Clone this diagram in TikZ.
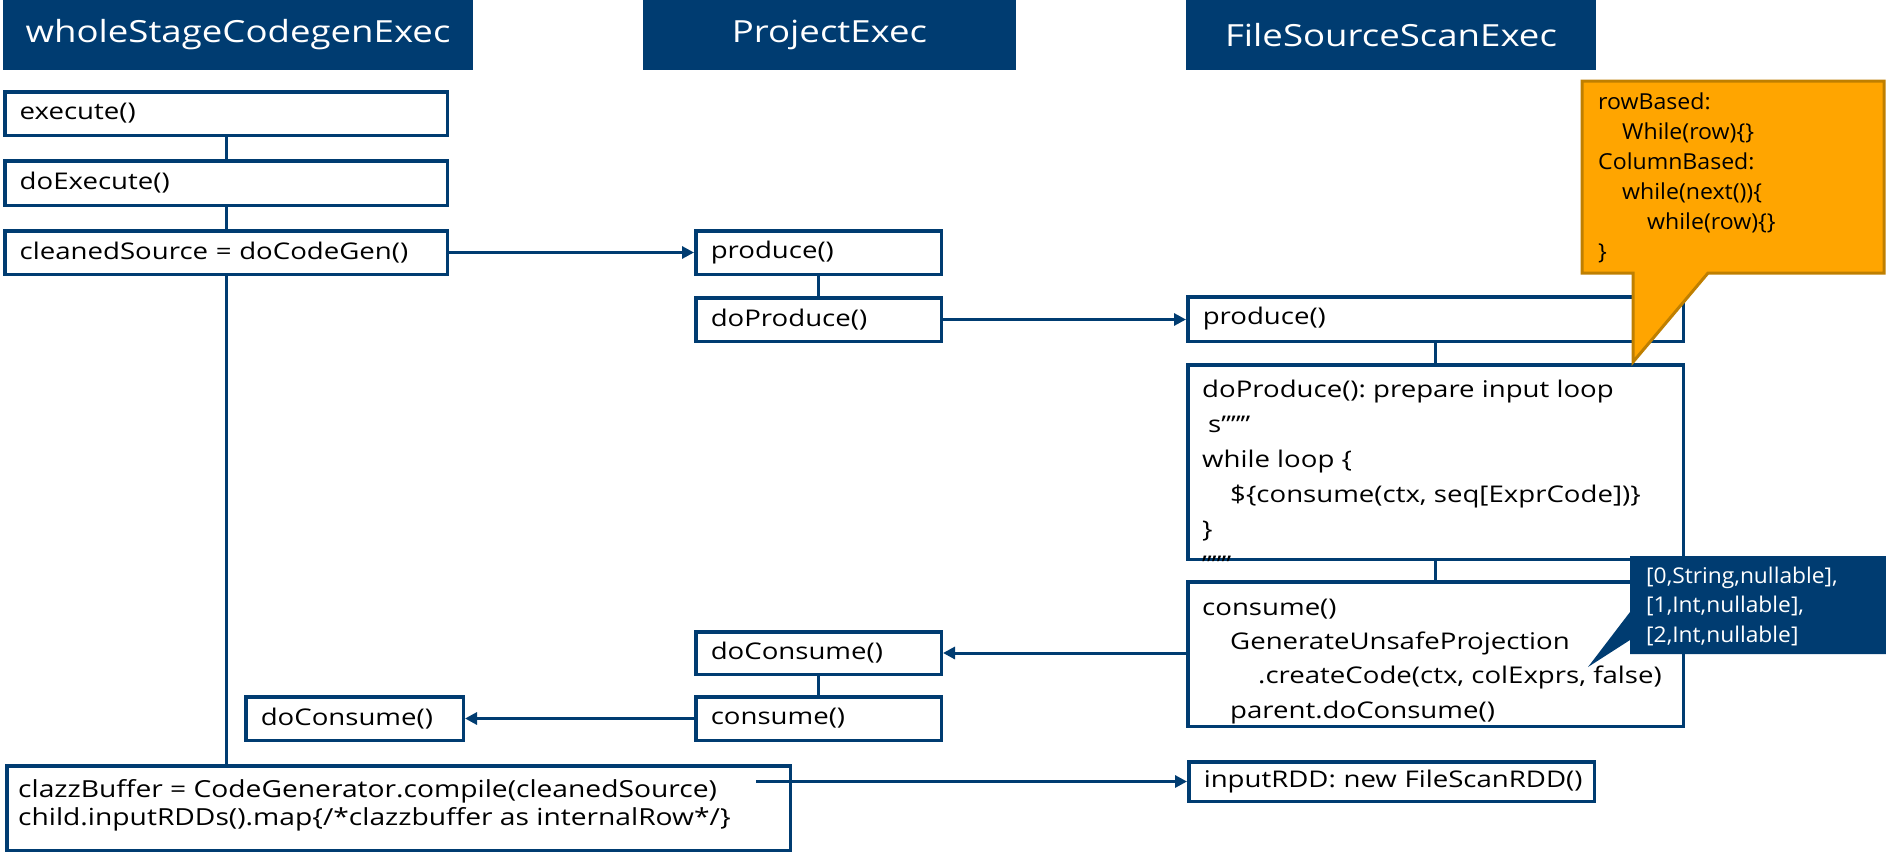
\documentclass[tikz,border=0pt]{standalone}
\usepackage{fontspec}
\setmainfont{Open Sans}[FakeStretch=1.2]
\newfontfamily\callfont{Open Sans}[FakeStretch=1.05]
\usetikzlibrary{arrows.meta}
\definecolor{ib}{RGB}{0,60,113}
\definecolor{org}{RGB}{255,165,0}
\definecolor{orgb}{RGB}{191,127,0}
\newcommand\bodyf{\fontsize{23}{28}\selectfont}
\newcommand\hdrf{\fontsize{30.5}{36}\selectfont}
\frenchspacing
\begin{document}
\begin{tikzpicture}[x=1pt,y=-1pt,
  hdr/.style={fill=ib, text=white, font=\hdrf, inner sep=0pt, minimum height=70pt},
  bx/.style={draw=ib, line width=3.5pt, fill=white, inner xsep=15pt, inner ysep=0pt, align=left, font=\bodyf},
  ln/.style={draw=ib, line width=3pt},
  arr/.style={ln, -{Triangle[length=12pt,width=12pt]}},
  txt/.style={inner sep=0pt, anchor=north west, align=left}]
\useasboundingbox (0,0) rectangle (1886,859);
\fill[white] (0,0) rectangle (1886,859);
% headers
\node[hdr, minimum width=470pt] (h1) at (238,35) {wholeStageCodegenExec};
\node[hdr, minimum width=373pt] (h2) at (829.5,35) {ProjectExec};
\node[hdr, minimum width=410pt] (h3) at (1391,35) {FileSourceScanExec};
% left column
\node[bx, text width=412.5pt, minimum height=43.5pt] (exe) at (226,113.5) {execute()};
\node[bx, text width=412.5pt, minimum height=44.5pt] (doexe) at (226,183) {doExecute()};
\node[bx, text width=412.5pt, minimum height=43.5pt] (clean) at (226,252.5) {cleanedSource = doCodeGen()};
\node[bx, text width=187.5pt, minimum height=43.5pt] (wdc) at (354.5,718.5) {doConsume()};
\node[bx, text width=753.5pt, minimum height=84.5pt] (clazz) at (398.5,808) {};
% project column
\node[bx, text width=215.5pt, minimum height=43.5pt] (pprod) at (818.5,252.5) {produce()};
\node[bx, text width=215.5pt, minimum height=43.5pt] (pdoprod) at (818.5,319.5) {doProduce()};
\node[bx, text width=215.5pt, minimum height=42.5pt] (pdocons) at (818.5,653) {doConsume()};
\node[bx, text width=215.5pt, minimum height=43.5pt] (pcons) at (818.5,718.5) {consume()};
% file source scan column
\node[bx, text width=465.5pt, minimum height=44.5pt] (fprod) at (1435.5,319) {produce()};
\node[bx, text width=465.5pt, minimum height=194.5pt] (fdoprod) at (1435.5,462) {};
\node[bx, text width=465.5pt, minimum height=144.5pt] (fcons) at (1435.5,654) {};
\node[bx, text width=375.5pt, minimum height=39.5pt] (frdd) at (1391.5,781.5) {\mbox{inputRDD: new FileScanRDD()}};
% multi-line texts
\node[txt, font=\fontsize{23}{35}\selectfont] (tdp) at (1202,372.5) {\strut doProduce(): prepare input loop\\\hspace*{6pt}s”””\\while loop \{\\\hspace*{28pt}\$\{consume(ctx, seq[ExprCode])\}\\\}\\”””};
\node[txt, font=\fontsize{23}{34.3}\selectfont] (tcons) at (1202,591) {\strut consume()\\\hspace*{28pt}GenerateUnsafeProjection\\\hspace*{56pt}.createCode(ctx, colExprs, false)\\\hspace*{28pt}parent.doConsume()};
\node[txt, font=\fontsize{23.5}{28}\selectfont] (tclazz) at (18,777.4) {\strut clazzBuffer = CodeGenerator.compile(cleanedSource)\\child.inputRDDs().map\{/*clazzbuffer as internalRow*/\}};
% connectors
\draw[ln] (exe) -- (doexe);
\draw[ln] (doexe) -- (clean);
\draw[ln] (clean.south) -- (clean.south |- clazz.north);
\draw[ln] (pprod) -- (pdoprod);
\draw[ln] (pdocons) -- (pcons);
\draw[ln] (fprod) -- (fdoprod);
\draw[ln] (fdoprod) -- (fcons);
% arrows
\draw[arr] (clean) -- (pprod);
\draw[arr] (pdoprod.east) -- (pdoprod.east -| fprod.west);
\draw[arr] (fcons.west |- pdocons) -- (pdocons.east);
\draw[arr] (pcons) -- (wdc);
\coordinate (cz) at (756,781.5);
\draw[arr] (cz) -- (frdd.west);
% orange callout
\draw[fill=org, draw=orgb, line width=3pt, line join=miter]
  (1582,81) -- (1884,81) -- (1884,273) -- (1708,273) -- (1633,362) -- (1633,273) -- (1582,273) -- cycle;
\node[txt, font=\callfont\fontsize{22}{30}\selectfont] (torg) at (1598,88) {\strut rowBased:\\\hspace*{24pt}While(row)\{\}\\ColumnBased:\\\hspace*{24pt}while(next())\{\\\hspace*{49pt}while(row)\{\}\\\}};
% blue callout
\fill[ib] (1630,556) -- (1886,556) -- (1886,654) -- (1630,654) -- (1630,640) -- (1588,667) -- (1630,612) -- cycle;
\node[txt, text=white, font=\callfont\fontsize{21.7}{29.5}\selectfont] (tblue) at (1646,562.4) {\strut [0,String,nullable],\\{}[1,Int,nullable],\\{}[2,Int,nullable]};
\end{tikzpicture}
\end{document}
